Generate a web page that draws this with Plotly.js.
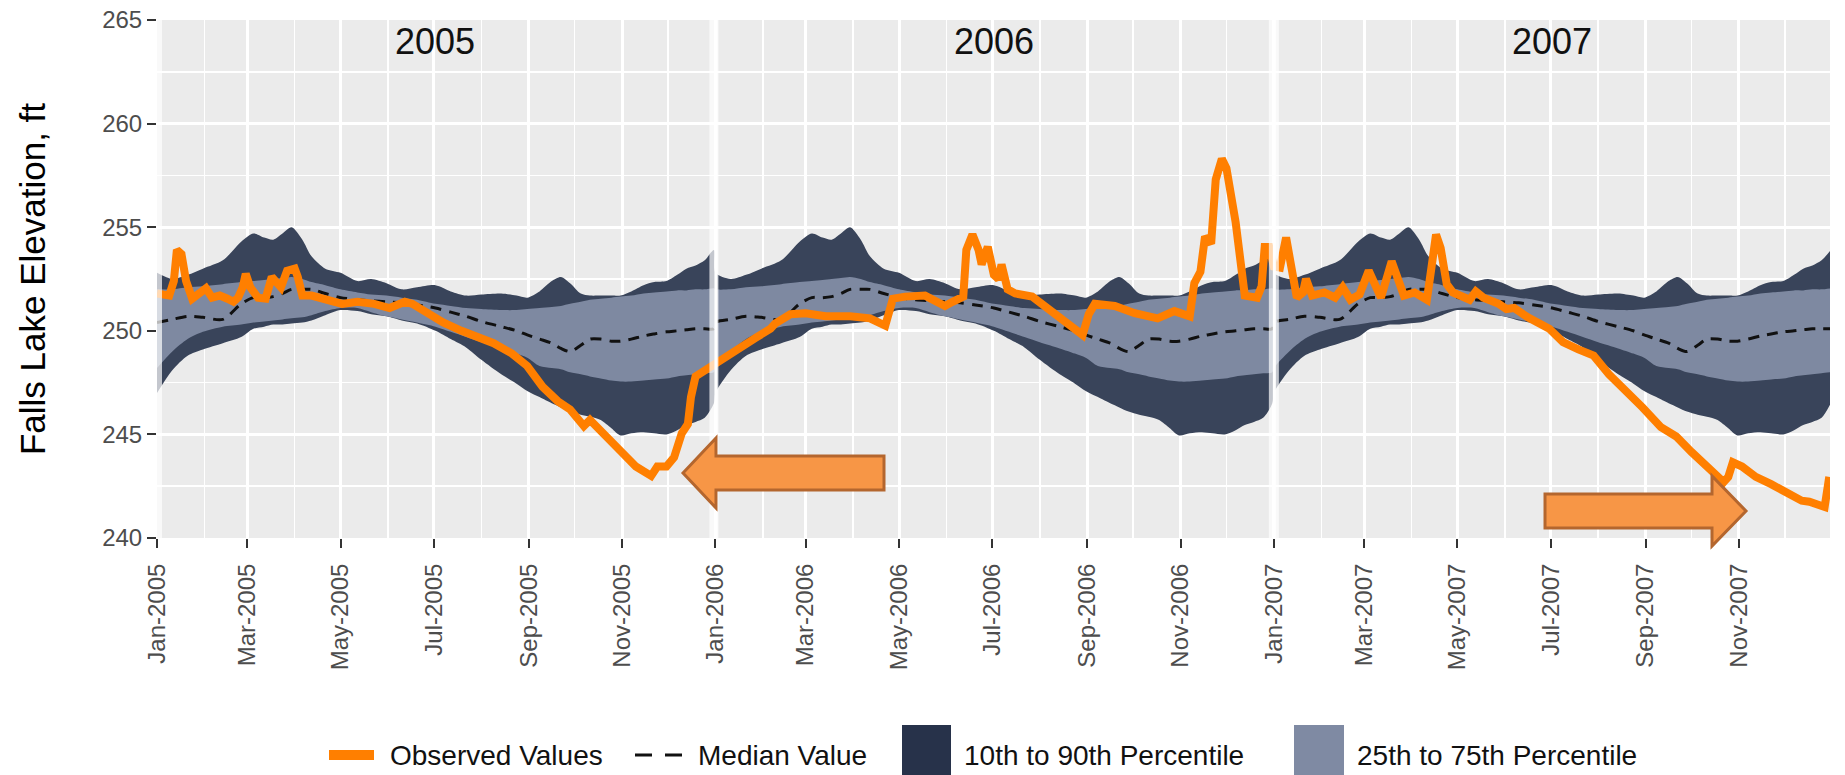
<!DOCTYPE html>
<html>
<head>
<meta charset="utf-8">
<script src="https://cdn.plot.ly/plotly-3.0.1.min.js"></script>
<style>
html,body{margin:0;padding:0;background:#ffffff;}
#chart{width:1845px;height:775px;}
</style>
</head>
<body>
<div id="chart"></div>
<script>
// ---------------- DATA ----------------
const years = [2005, 2006, 2007];
const yearLabels = ['2005', '2006', '2007'];

// Climatology (same for every year), by day of year
const climDay = [0,10,20,30,43,55,63,70,76,82,88,95,101,110,120,131,140,150,160,170,182,192,202,212,225,235,242,250,258,264,270,277,283,290,297,303,310,318,325,333,340,346,352,358,364];
const p90 = [252.8,252.5,252.7,253.0,253.4,254.3,254.7,254.5,254.4,254.7,255.0,254.4,253.6,253.0,252.8,252.4,252.5,252.3,252.0,252.1,252.2,251.9,251.7,251.75,251.8,251.7,251.6,251.9,252.4,252.6,252.3,251.8,251.7,251.7,251.7,251.7,251.9,252.2,252.35,252.4,252.7,253.0,253.15,253.4,253.9];
const p75 = [252.0,252.0,252.1,252.15,252.25,252.35,252.4,252.45,252.5,252.55,252.6,252.5,252.35,252.2,252.0,251.85,251.75,251.7,251.6,251.5,251.3,251.2,251.1,251.05,251.0,251.0,251.05,251.1,251.15,251.2,251.3,251.4,251.5,251.55,251.6,251.65,251.7,251.8,251.85,251.9,251.95,251.95,252.0,252.0,252.05];
const median = [250.4,250.55,250.7,250.65,250.55,251.3,251.6,251.6,251.65,251.8,252.0,252.0,252.0,251.8,251.6,251.5,251.45,251.4,251.35,251.25,251.1,250.9,250.7,250.45,250.2,250.0,249.8,249.6,249.4,249.15,249.0,249.3,249.6,249.6,249.5,249.5,249.6,249.75,249.85,249.95,250.0,250.05,250.1,250.1,250.1];
const p25 = [248.2,249.0,249.6,249.95,250.2,250.3,250.4,250.45,250.5,250.55,250.6,250.65,250.75,250.95,251.1,251.1,250.9,250.7,250.55,250.4,250.2,249.95,249.7,249.45,249.15,248.9,248.7,248.3,248.2,248.15,248.0,247.9,247.8,247.7,247.6,247.55,247.55,247.6,247.65,247.7,247.8,247.85,247.9,247.95,248.0];
const p10 = [247.0,248.1,248.8,249.1,249.4,249.7,250.1,250.2,250.3,250.3,250.35,250.4,250.5,250.75,251.0,250.95,250.8,250.7,250.5,250.35,250.0,249.6,249.2,248.6,247.9,247.45,247.1,246.8,246.5,246.3,246.1,245.95,245.85,245.7,245.3,244.95,245.05,245.1,245.05,245.0,245.2,245.45,245.6,245.8,246.5];

// Observed lake elevation
const obsDates = [
'2005-01-01','2005-01-09','2005-01-12','2005-01-14','2005-01-17','2005-01-20','2005-01-24','2005-01-28','2005-02-02','2005-02-06',
'2005-02-11','2005-02-16','2005-02-20','2005-02-23','2005-02-26','2005-02-28','2005-03-03','2005-03-08','2005-03-13','2005-03-17',
'2005-03-19','2005-03-23','2005-03-27','2005-04-01','2005-04-03','2005-04-06','2005-04-12','2005-04-22','2005-05-02','2005-05-12',
'2005-05-23','2005-06-02','2005-06-07','2005-06-12','2005-06-17','2005-06-27','2005-07-07','2005-07-19','2005-08-01','2005-08-09',
'2005-08-21','2005-08-31','2005-09-10','2005-09-20','2005-09-28','2005-10-07','2005-10-11','2005-10-21','2005-10-31','2005-11-10',
'2005-11-20','2005-11-24','2005-11-30','2005-12-05','2005-12-08','2005-12-10','2005-12-14','2005-12-16','2005-12-19','2005-12-25',
'2006-01-01','2006-01-11','2006-01-16','2006-01-27','2006-02-06','2006-02-09','2006-02-19','2006-03-01','2006-03-14','2006-03-30',
'2006-04-12','2006-04-22','2006-04-27','2006-05-05','2006-05-18','2006-05-31','2006-06-05','2006-06-12','2006-06-14','2006-06-18',
'2006-06-22','2006-06-24','2006-06-28','2006-07-02','2006-07-05','2006-07-07','2006-07-11','2006-07-16','2006-07-27','2006-08-06',
'2006-08-16','2006-08-29','2006-09-02','2006-09-06','2006-09-19','2006-10-02','2006-10-17','2006-10-28','2006-11-07','2006-11-10',
'2006-11-14','2006-11-17','2006-11-21','2006-11-24','2006-11-28','2006-12-01','2006-12-07','2006-12-11','2006-12-13','2006-12-21',
'2006-12-24','2006-12-26','2006-12-29',
'2007-01-01','2007-01-05','2007-01-09','2007-01-12','2007-01-16','2007-01-20','2007-01-22','2007-01-26','2007-02-03','2007-02-10',
'2007-02-15','2007-02-20','2007-02-26','2007-03-04','2007-03-07','2007-03-12','2007-03-19','2007-03-23','2007-03-27','2007-04-03',
'2007-04-11','2007-04-14','2007-04-17','2007-04-20','2007-04-24','2007-04-28','2007-05-09','2007-05-13','2007-05-18','2007-05-28',
'2007-06-02','2007-06-07','2007-06-16','2007-06-30','2007-07-09','2007-07-19','2007-07-29','2007-08-08','2007-08-20','2007-08-30',
'2007-09-11','2007-09-21','2007-10-01','2007-10-11','2007-10-22','2007-10-25','2007-10-28','2007-11-03','2007-11-12','2007-11-22',
'2007-12-02','2007-12-12','2007-12-17','2007-12-22','2007-12-27','2007-12-30'
];
const obsValues = [
251.8,251.7,252.4,253.9,253.7,252.4,251.55,251.8,252.05,251.6,
251.7,251.55,251.4,251.6,252.1,252.75,252.1,251.6,251.55,252.6,
252.45,252.1,252.9,253.0,252.6,251.7,251.7,251.5,251.3,251.4,
251.3,251.1,251.25,251.4,251.3,250.8,250.4,250.0,249.6,249.4,
248.9,248.3,247.3,246.6,246.2,245.4,245.7,244.9,244.2,243.45,
243.0,243.45,243.45,243.9,244.7,245.05,245.5,246.8,247.8,248.1,
248.4,248.9,249.2,249.65,250.1,250.35,250.8,250.85,250.7,250.7,
250.6,250.25,251.55,251.65,251.7,251.2,251.4,251.65,253.9,254.65,
253.9,253.2,254.05,252.7,252.5,253.2,252.0,251.8,251.65,251.1,
250.6,249.8,250.8,251.3,251.2,250.85,250.6,250.95,250.7,252.3,
252.85,254.55,254.2,257.3,258.3,257.85,255.25,252.3,251.7,251.6,
252.15,254.05,254.05,
253.1,253.05,254.5,253.2,251.6,251.85,252.5,251.7,251.85,251.6,
252.1,251.5,251.75,252.9,252.4,251.6,253.35,252.4,251.7,251.85,
251.5,253.05,254.65,254.0,252.25,251.85,251.5,251.9,251.6,251.3,
251.05,251.1,250.65,250.1,249.45,249.1,248.8,247.9,247.05,246.3,
245.35,244.9,244.15,243.45,242.7,242.95,243.65,243.45,242.95,242.6,
242.2,241.8,241.75,241.6,241.5,242.95
];

const seriesNames = ['Observed Values', 'Median Value', '10th to 90th Percentile', '25th to 75th Percentile'];
const yAxisTitle = 'Falls Lake Elevation, ft';

// ---------------- STYLE ----------------
const COL_OBS = '#FF7F00';
const COL_DARK = '#39445A';
const COL_LIGHT = '#7E89A1';
const COL_DARK_KEY = '#27324A';
const COL_LIGHT_KEY = '#7F8AA3';
const FONT = 'Liberation Sans, Arial, Helvetica, sans-serif';

// figure geometry (px)
const W = 1845, H = 775;
const M = {l: 157, r: 15, t: 20, b: 237};
const PW = W - M.l - M.r, PH = H - M.t - M.b;
const px2paperX = px => (px - M.l) / PW;
const py2paperY = py => (H - M.b - py) / PH;
const X_RANGE = ['2005-01-01', '2007-12-30 12:00'];
const msPerPx = (Date.parse('2007-12-30T12:00:00Z') - Date.parse('2005-01-01T00:00:00Z')) / PW;
const shiftDate = (iso, px) => new Date(Date.parse(iso + 'T00:00:00Z') + px * msPerPx).toISOString().replace('T', ' ').slice(0, 19);

// climatology dates for each year
const climDates = [];
const rep = arr => { const out = []; years.forEach(() => arr.forEach(v => out.push(v))); return out; };
years.forEach(y => climDay.forEach(d => {
  climDates.push(new Date(Date.UTC(y, 0, 1) + d * 86400000).toISOString().slice(0, 10));
}));

const bandLine = {width: 0, shape: 'spline', smoothing: 0.8};
const traces = [
  {x: climDates, y: rep(p90), type: 'scatter', mode: 'lines', line: Object.assign({color: COL_DARK}, bandLine), hoverinfo: 'skip', showlegend: false},
  {x: climDates, y: rep(p10), type: 'scatter', mode: 'lines', fill: 'tonexty', fillcolor: COL_DARK, line: Object.assign({color: COL_DARK}, bandLine), name: seriesNames[2], showlegend: false},
  {x: climDates, y: rep(p75), type: 'scatter', mode: 'lines', line: Object.assign({color: COL_LIGHT}, bandLine), hoverinfo: 'skip', showlegend: false},
  {x: climDates, y: rep(p25), type: 'scatter', mode: 'lines', fill: 'tonexty', fillcolor: COL_LIGHT, line: Object.assign({color: COL_LIGHT}, bandLine), name: seriesNames[3], showlegend: false},
  {x: climDates, y: rep(median), type: 'scatter', mode: 'lines', line: {color: '#111111', width: 3, dash: '11px,8px', shape: 'spline', smoothing: 0.8}, name: seriesNames[1], showlegend: false},
  {x: obsDates, y: obsValues, type: 'scatter', mode: 'lines', line: {color: COL_OBS, width: 8}, name: seriesNames[0], showlegend: false}
];

// ---------------- SHAPES ----------------
const shapes = [];
// translucent panel joins
const joins = [
  {d: '2005-01-01', a: 0, b: 5},
  {d: '2006-01-01', a: -6, b: 3},
  {d: '2007-01-01', a: -5, b: 5}
];
joins.forEach(j => {
  shapes.push({type: 'rect', xref: 'x', yref: 'paper', x0: shiftDate(j.d, j.a), x1: shiftDate(j.d, j.b), y0: 0, y1: 1,
    fillcolor: 'rgba(255,255,255,0.7)', line: {width: 0}, layer: 'above'});
  if (j.a < 0) shapes.push({type: 'line', xref: 'x', yref: 'paper', x0: shiftDate(j.d, 0.5), x1: shiftDate(j.d, 0.5), y0: 0, y1: 1,
    line: {color: '#ffffff', width: 3}, layer: 'above'});
});
shapes.push({type: 'rect', xref: 'x', yref: 'paper', x0: shiftDate('2007-12-30', 6), x1: shiftDate('2007-12-30', 14), y0: 0, y1: 1,
  fillcolor: 'rgba(255,255,255,0.6)', line: {width: 0}, layer: 'above'});

// arrows (pixel geometry -> paper)
const poly = pts => 'M ' + pts.map(p => px2paperX(p[0]).toFixed(5) + ',' + py2paperY(p[1]).toFixed(5)).join(' L ') + ' Z';
const arrowStyle = {type: 'path', xref: 'paper', yref: 'paper', fillcolor: '#F79646', line: {color: '#B4662E', width: 3}, layer: 'above'};
shapes.push(Object.assign({path: poly([[683,473],[716,438],[716,456],[884,456],[884,490],[716,490],[716,508]])}, arrowStyle));
shapes.push(Object.assign({path: poly([[1545,494],[1712,494],[1712,476],[1746,511],[1712,546],[1712,528],[1545,528]])}, arrowStyle));

// legend keys
const legY = 755;
shapes.push({type: 'line', xref: 'paper', yref: 'paper', x0: px2paperX(329), x1: px2paperX(374), y0: py2paperY(legY), y1: py2paperY(legY), line: {color: COL_OBS, width: 10}});
shapes.push({type: 'line', xref: 'paper', yref: 'paper', x0: px2paperX(635), x1: px2paperX(682), y0: py2paperY(legY), y1: py2paperY(legY), line: {color: '#111111', width: 3, dash: '17px,13px'}});
shapes.push({type: 'rect', xref: 'paper', yref: 'paper', x0: px2paperX(902), x1: px2paperX(951), y0: py2paperY(725), y1: py2paperY(776), fillcolor: COL_DARK_KEY, line: {width: 0}});
shapes.push({type: 'rect', xref: 'paper', yref: 'paper', x0: px2paperX(1294), x1: px2paperX(1344), y0: py2paperY(725), y1: py2paperY(776), fillcolor: COL_LIGHT_KEY, line: {width: 0}});

// ---------------- ANNOTATIONS ----------------
const annotations = [];
years.forEach((y, i) => {
  annotations.push({xref: 'x', yref: 'paper', x: y + '-07-02', y: py2paperY(41), text: yearLabels[i], showarrow: false,
    xanchor: 'center', yanchor: 'middle', font: {family: FONT, size: 36, color: '#111111'}});
});
const legTextX = [388, 696, 962, 1355];
seriesNames.forEach((name, i) => {
  annotations.push({xref: 'paper', yref: 'paper', x: px2paperX(legTextX[i]), y: py2paperY(legY), text: name, showarrow: false,
    xanchor: 'left', yanchor: 'middle', font: {family: FONT, size: 28, color: '#111111'}});
});

const layout = {
  width: W, height: H,
  margin: M,
  paper_bgcolor: '#ffffff',
  plot_bgcolor: '#EBEBEB',
  showlegend: false,
  font: {family: FONT, color: '#4D4D4D'},
  xaxis: {
    type: 'date', range: X_RANGE, tick0: '2005-01-01', dtick: 'M2', tickformat: '%b-%Y', tickangle: -90,
    ticks: 'outside', ticklen: 9, tickwidth: 2, tickcolor: '#333333', ticklabelstandoff: 6,
    tickfont: {family: FONT, size: 24, color: '#4D4D4D'},
    showgrid: true, gridcolor: '#ffffff', gridwidth: 3, zeroline: false, showline: false,
    minor: {tick0: '2005-01-01', dtick: 'M1', showgrid: true, gridcolor: '#ffffff', gridwidth: 1.5, ticks: ''},
    fixedrange: true
  },
  yaxis: {
    range: [240, 265], tick0: 240, dtick: 5,
    ticks: 'outside', ticklen: 9, tickwidth: 2, tickcolor: '#333333', ticklabelstandoff: 0,
    tickfont: {family: FONT, size: 24, color: '#4D4D4D'},
    showgrid: true, gridcolor: '#ffffff', gridwidth: 3, zeroline: false, showline: false,
    minor: {tick0: 240, dtick: 2.5, showgrid: true, gridcolor: '#ffffff', gridwidth: 1.5, ticks: ''},
    title: {text: yAxisTitle, font: {family: FONT, size: 35, color: '#000000'}, standoff: 45},
    fixedrange: true
  },
  shapes: shapes,
  annotations: annotations
};

Plotly.newPlot('chart', traces, layout, {displayModeBar: false, staticPlot: true});
</script>
</body>
</html>
